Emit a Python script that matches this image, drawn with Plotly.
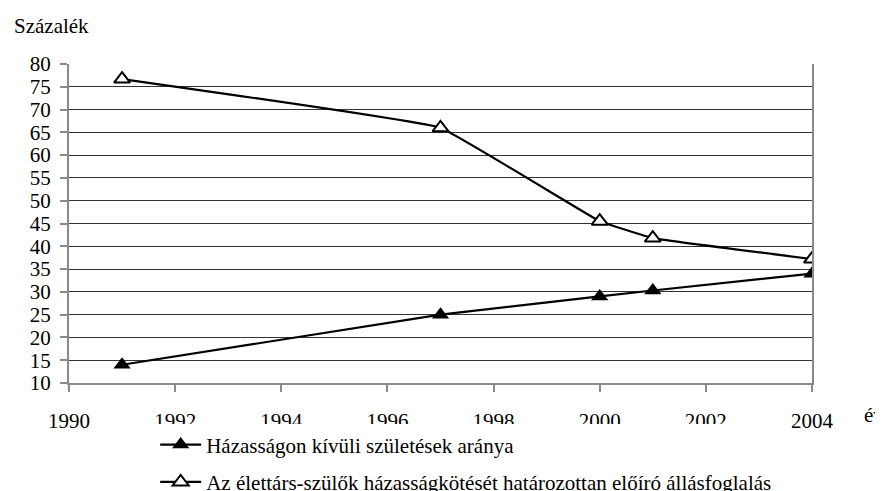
import plotly.graph_objects as go

years = [1991, 1997, 2000, 2001, 2004]
born_outside = [14.0, 25.0, 29.0, 30.3, 34.0]
marriage_attitude = [76.7, 66.0, 45.5, 41.8, 37.2]

name_born = "Házasságon kívüli születések aránya"
name_attitude = "Az élettárs-szülők házasságkötését határozottan előíró állásfoglalás"

FONT = "Times New Roman, Liberation Serif, serif"

fig = go.Figure()
fig.add_trace(go.Scatter(
    x=years, y=born_outside, mode="lines+markers", name=name_born,
    legendgroup="a",
    line=dict(color="black", width=2.2),
    marker=dict(symbol="triangle-up", size=15, color="black"),
))
fig.add_trace(go.Scatter(
    x=years, y=marriage_attitude, mode="lines+markers", name=name_attitude,
    legendgroup="b",
    line=dict(color="black", width=2.2, shape="spline", smoothing=0.2),
    marker=dict(symbol="triangle-up", size=14, color="white",
                line=dict(color="black", width=2)),
))

# the page body has an 8px margin, so the figure sits 8px right and down;
# the figure runs past the window bottom, which leaves room for the legend
fig.update_layout(
    width=883, height=520,
    paper_bgcolor="white", plot_bgcolor="white",
    font=dict(family=FONT, size=21, color="black"),
    margin=dict(l=61, r=79, t=56, b=145),
    showlegend=True,
    legend=dict(x=0.116, y=-0.13, xanchor="left", yanchor="top",
                traceorder="grouped", tracegroupgap=7, itemwidth=41,
                font=dict(family=FONT, size=21)),
    annotations=[
        dict(text="Százalék", xref="paper", yref="paper", x=-0.077, y=1.119,
             xanchor="left", yanchor="middle", showarrow=False),
        dict(text="év", xref="paper", yref="paper", x=1.067, y=-0.1,
             xanchor="left", yanchor="middle", showarrow=False),
    ],
)
fig.update_xaxes(
    range=[1990, 2004], tickmode="linear", tick0=1990, dtick=2,
    showgrid=False, zeroline=False,
    showline=True, linecolor="#8a8a8a", linewidth=2,
    ticks="outside", ticklen=7, tickcolor="#8a8a8a", tickwidth=2,
    ticklabelstandoff=11,
)
fig.update_yaxes(
    range=[10, 80], tickmode="linear", tick0=10, dtick=5,
    showgrid=True, gridcolor="#333333", gridwidth=1, zeroline=False,
    showline=True, linecolor="#8a8a8a", linewidth=2, mirror=True,
    ticks="outside", ticklen=7, tickcolor="#8a8a8a", tickwidth=2,
    ticklabelstandoff=5,
)

fig.write_html("out.html")
